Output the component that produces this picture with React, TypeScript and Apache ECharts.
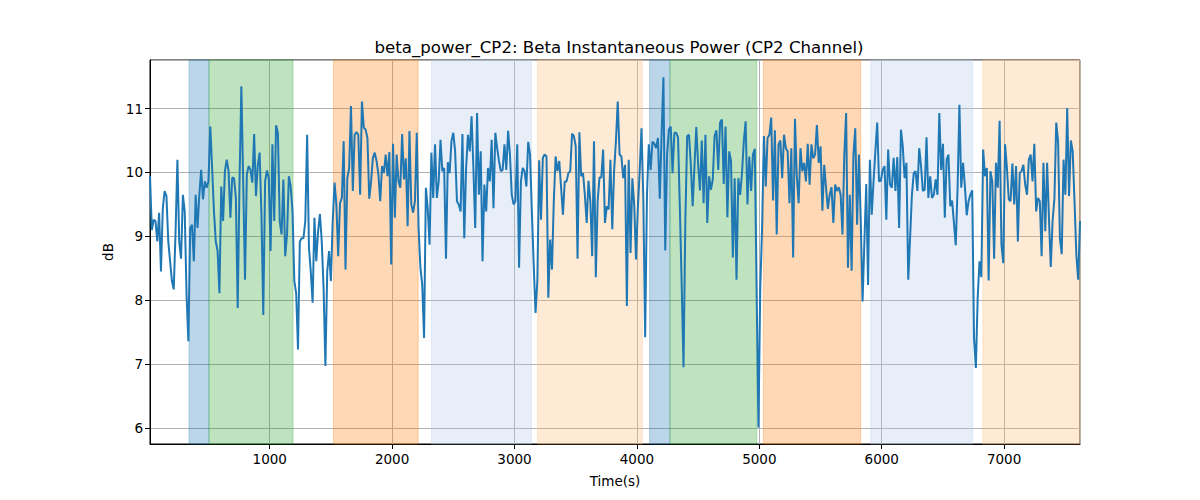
import React, { useEffect, useRef } from "react";
import * as echarts from "echarts";

const TITLE = "beta_power_CP2: Beta Instantaneous Power (CP2 Channel)";
const X_LABEL = "Time(s)";
const Y_LABEL = "dB";

// Sampling grid of the series (seconds)
const T_START = 22;
const T_END = 7620;

// Beta instantaneous power (dB)
const POWER_DB: number[] = [
  9.94, 9.10, 9.26, 9.24, 8.92, 9.37, 8.45, 9.44, 9.71, 9.63, 8.92, 8.61, 8.30, 8.17, 9.08, 10.20, 8.92, 8.65, 9.65, 9.39,
  8.09, 7.36, 9.13, 9.18, 8.61, 9.65, 9.13, 9.65, 10.04, 9.58, 9.86, 9.76, 9.86, 10.72, 10.07, 9.39, 8.92, 8.77, 8.11, 9.78,
  9.24, 10.02, 10.20, 10.02, 9.29, 9.92, 9.91, 9.60, 7.88, 9.86, 11.35, 9.86, 8.32, 9.97, 10.10, 10.04, 9.84, 10.60, 9.63, 10.12,
  10.31, 9.34, 7.77, 9.86, 10.03, 9.91,
  8.77, 10.44, 9.24, 10.74, 10.62, 9.24, 9.03, 9.89, 8.69, 9.03, 9.94, 9.78, 9.39, 8.30, 8.11, 7.23, 8.92, 8.97, 8.97, 9.24,
  10.59, 8.82, 8.45, 7.96, 9.29, 8.61, 9.08, 9.35, 8.92, 8.19, 6.97, 8.45, 8.77, 8.30, 9.24, 9.84, 9.50, 8.69, 9.52, 9.60,
  10.49, 8.48, 9.91, 10.07, 11.04, 9.71, 10.59, 10.63, 10.59, 9.65, 11.11, 10.70, 10.67, 10.54, 9.59, 9.86, 10.23, 10.31, 10.18, 9.97,
  9.55, 10.10, 9.99, 10.28,
  9.94, 10.32, 8.56, 10.45, 9.29, 10.28, 9.86, 9.76, 10.60, 9.89, 10.22, 9.16, 10.65, 9.50, 9.37, 9.55, 10.62, 9.13, 8.51, 8.24,
  7.41, 9.76, 9.44, 8.87, 10.31, 9.60, 10.44, 9.60, 9.86, 10.51, 10.02, 10.07, 8.65, 10.16, 9.99, 10.49, 10.62, 10.33, 9.55, 9.50,
  9.39, 10.60, 8.97, 10.07, 10.59, 10.33, 10.88, 10.07, 9.13, 10.93, 9.65, 10.33, 8.61, 9.81, 9.39, 10.07, 9.86, 10.51, 9.44, 10.62,
  10.38, 10.18, 10.02,
  10.04, 10.44, 10.04, 10.65, 10.28, 9.65, 9.50, 9.55, 10.44, 8.51, 9.86, 10.07, 10.02, 9.78, 10.48, 10.28, 9.39, 8.56, 7.80, 8.30,
  10.19, 9.26, 10.23, 10.28, 10.25, 8.04, 8.95, 8.48, 9.55, 10.25, 10.02, 10.18, 9.76, 9.34, 9.86, 9.86, 9.99, 10.02, 10.61, 10.57,
  10.41, 8.65, 10.63, 9.94, 9.99, 9.65, 9.21, 9.87, 9.55, 8.69, 10.49, 8.36, 9.55, 9.92, 9.92, 10.36, 9.21, 9.47, 9.42, 10.20,
  9.11, 10.02, 10.49, 11.11, 10.28,
  10.25, 9.91, 10.12, 7.91, 10.20, 8.74, 9.91, 9.50, 8.64, 9.44, 10.02, 10.69, 9.60, 7.42, 9.65, 10.44, 10.04, 10.48, 10.45, 10.38,
  10.54, 9.59, 10.59, 11.49, 8.78, 10.28, 10.67, 10.72, 9.99, 10.62, 10.62, 10.55, 9.44, 8.24, 6.95, 9.24, 10.57, 10.59, 10.12, 9.47,
  10.10, 10.71, 10.12, 9.72, 10.50, 9.52, 10.59, 9.21, 9.94, 9.73, 9.89, 10.57, 10.66, 10.04, 10.78, 10.83, 9.82, 10.72, 9.30, 10.33,
  10.18, 8.67, 9.91, 8.32,
  9.91, 9.65, 9.99, 10.49, 10.80, 9.50, 10.25, 9.71, 10.28, 10.37, 8.19, 6.01, 8.19, 9.13, 10.57, 9.78, 10.54, 10.59, 10.86, 9.56,
  10.66, 9.03, 10.44, 10.50, 9.91, 10.59, 10.38, 10.33, 9.52, 10.38, 8.67, 10.84, 9.94, 9.52, 10.38, 10.02, 10.15, 9.86, 10.45, 9.81,
  10.44, 10.22, 10.28, 10.74, 10.15, 10.41, 9.40, 10.12, 9.76, 9.43, 9.65, 9.77, 9.21, 9.81, 9.71, 9.77, 9.65, 9.03, 10.28, 10.93,
  8.51, 9.65, 8.46, 10.28,
  10.69, 9.18, 10.28, 9.24, 7.98, 8.92, 9.82, 8.24, 10.20, 9.34, 9.86, 10.33, 10.78, 9.86, 9.87, 10.04, 10.10, 9.26, 10.36, 9.81,
  9.76, 10.23, 9.71, 10.24, 9.13, 10.67, 10.41, 9.91, 10.15, 8.32, 8.97, 9.65, 9.99, 10.02, 9.71, 10.38, 10.10, 9.71, 9.73, 10.55,
  9.60, 9.94, 9.60, 9.65, 9.89, 9.65, 10.93, 10.04, 10.45, 9.29, 10.20, 10.28, 9.47, 9.56, 9.21, 8.86, 9.76, 11.06, 9.76, 10.15,
  9.78, 9.33, 9.55,
  9.65, 9.72, 7.41, 6.94, 8.04, 8.61, 8.36, 10.36, 9.94, 10.07, 8.31, 10.02, 9.86, 8.65, 10.15, 9.76, 10.81, 8.87, 8.58, 10.44,
  10.07, 9.58, 9.55, 10.14, 9.50, 10.10, 8.92, 9.99, 10.02, 10.12, 9.81, 9.65, 10.20, 10.28, 9.86, 10.45, 9.39, 9.60, 9.55, 8.69,
  10.15, 9.08, 10.15, 9.29, 8.52, 9.24, 9.59, 10.78, 10.49, 8.97, 8.72, 10.20, 9.65, 11.01, 9.63, 10.50, 10.33, 9.55, 8.71, 8.32,
  9.24,
];

// Shaded periods: [start, end, kind]
const SPAN_STARTS = [341, 504, 1521, 2322, 3188, 4104, 4270, 5033, 5911, 6826];
const SPAN_ENDS = [504, 1191, 2213, 3139, 4044, 4270, 4979, 5829, 6744, 7620];
const SPAN_KINDS = ["blue", "green", "orange", "lightblue", "lightorange", "blue", "green", "orange", "lightblue", "lightorange"];

const SPAN_COLORS: Record<string, string> = {
  blue: "rgba(31,119,180,0.3)",
  green: "rgba(44,160,44,0.3)",
  orange: "rgba(255,127,14,0.3)",
  lightblue: "rgba(174,199,232,0.3)",
  lightorange: "rgba(255,187,120,0.3)",
};

const Y_MIN = 5.75;
const Y_MAX = 11.76;

export default function App() {
  const ref = useRef<HTMLDivElement>(null);

  useEffect(() => {
    if (!ref.current) return;
    const chart = echarts.init(ref.current, undefined, { renderer: "svg" });
    const n = POWER_DB.length;
    const step = (T_END - T_START) / (n - 1);
    const data = POWER_DB.map((v, i) => [T_START + i * step, v]);

    const markAreaData = SPAN_STARTS.map((s, i) => [
      {
        xAxis: s,
        itemStyle: {
          color: SPAN_COLORS[SPAN_KINDS[i]],
          borderColor: SPAN_COLORS[SPAN_KINDS[i]],
          borderWidth: 1,
        },
      },
      { xAxis: SPAN_ENDS[i] },
    ]);

    const font = "DejaVu Sans";
    chart.setOption({
      animation: false,
      backgroundColor: "#ffffff",
      textStyle: { fontFamily: font },
      title: {
        text: TITLE,
        left: 614,
        textAlign: "center",
        top: 34,
        textStyle: { fontFamily: font, fontSize: 16.6, fontWeight: "normal", color: "#000" },
      },
      grid: {
        left: 150,
        right: 120,
        top: 60,
        bottom: 56,
        show: true,
        borderColor: "#000",
        borderWidth: 1,
        backgroundColor: "transparent",
      },
      xAxis: {
        type: "value",
        min: T_START,
        max: T_END,
        splitNumber: 8,
        minInterval: 1000,
        maxInterval: 1000,
        name: X_LABEL,
        nameLocation: "middle",
        nameGap: 30,
        nameTextStyle: { fontFamily: font, fontSize: 13.5, color: "#000" },
        axisLine: { show: true, onZero: false, lineStyle: { color: "#000", width: 1 } },
        axisTick: { show: true, length: 5, inside: false, lineStyle: { color: "#000" } },
        axisLabel: {
          showMinLabel: false,
          showMaxLabel: false,
          fontFamily: font,
          fontSize: 13.5,
          color: "#000",
          margin: 8,
          formatter: (v: number) => String(Math.round(v)),
        },
        splitLine: { show: true, lineStyle: { color: "#b0b0b0", width: 1 } },
      },
      yAxis: {
        type: "value",
        min: Y_MIN,
        max: Y_MAX,
        minInterval: 1,
        maxInterval: 1,
        name: Y_LABEL,
        nameLocation: "middle",
        nameGap: 33,
        nameRotate: 90,
        nameTextStyle: { fontFamily: font, fontSize: 13.5, color: "#000" },
        axisLine: { show: true, onZero: false, lineStyle: { color: "#000", width: 1 } },
        axisTick: { show: true, length: 5, inside: false, lineStyle: { color: "#000" } },
        axisLabel: {
          showMinLabel: false,
          showMaxLabel: false,
          fontFamily: font,
          fontSize: 13.5,
          color: "#000",
          margin: 7,
          formatter: (v: number) => String(Math.round(v)),
        },
        splitLine: { show: true, lineStyle: { color: "#b0b0b0", width: 1 } },
      },
      series: [
        {
          type: "line",
          data,
          showSymbol: false,
          symbol: "none",
          lineStyle: { color: "#1f77b4", width: 2 },
          markArea: { silent: true, data: markAreaData },
          z: 3,
        },
      ],
    });
    return () => chart.dispose();
  }, []);

  return (
    <div style={{ position: "fixed", left: 0, top: 0, width: 1200, height: 500, background: "#fff" }}>
      <div ref={ref} style={{ width: 1200, height: 500 }} />
    </div>
  );
}
